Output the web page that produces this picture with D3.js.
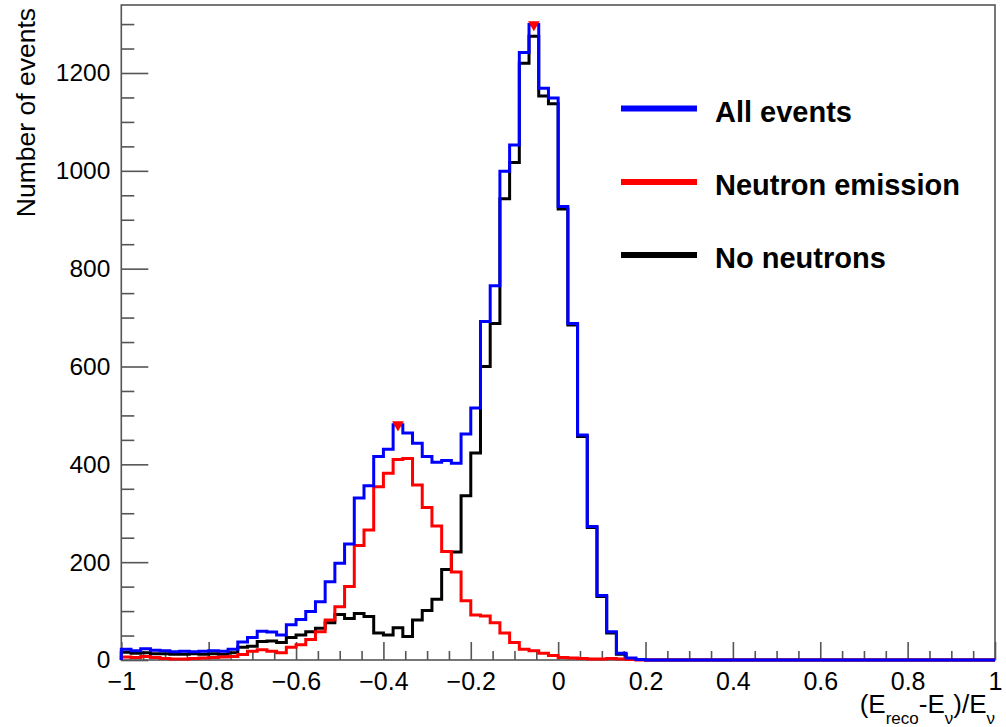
<!DOCTYPE html>
<html><head><meta charset="utf-8">
<script src="https://cdn.jsdelivr.net/npm/d3@7"></script>
<style>html,body{margin:0;padding:0;background:#fff;} text{font-family:"Liberation Sans",Arial,sans-serif;}</style>
</head><body>
<svg id="c" width="1006" height="727"></svg>
<script>
// Histogram definition: 90 bins between -1 and 1
const xRange = [-1, 1];
const nBins = 90;
// All events (blue)
const allEvents = [22,19,23,20,19,17,18,17,18,19,18,22,37,46,59,57,51,72,83,99,
  119,160,198,237,331,356,416,431,481,464,443,416,404,408,402,462,515,692,765,999,
  1053,1242,1299,1169,1149,927,688,460,273,132,58,14,4,1,0,0,0,0,0,0,
  0,0,0,0,0,0,0,0,0,0,0,0,0,0,0,0,0,0,0,0,0,0,0,0,0,0,0,0,0,0];
// Neutron emission (red)
const neutronEmission = [6,5,7,5,3,2,2,3,4,5,6,7,11,18,21,18,15,26,31,42,
  58,82,109,150,234,266,354,382,410,412,358,312,274,222,180,121,92,90,76,55,
  36,22,19,14,9,5,4,3,2,2,3,2,1,0,0,0,0,0,0,0,
  0,0,0,0,0,0,0,0,0,0,0,0,0,0,0,0,0,0,0,0,0,0,0,0,0,0,0,0,0,0];
// No neutrons (black)
const noNeutrons = [16,14,15,13,13,12,12,13,12,13,12,15,26,28,38,39,36,46,51,58,
  65,76,93,85,95,89,55,51,66,48,82,101,124,185,221,336,423,600,688,943,
  1017,1220,1275,1153,1137,922,685,457,271,130,55,12,3,1,0,0,0,0,0,0,
  0,0,0,0,0,0,0,0,0,0,0,0,0,0,0,0,0,0,0,0,0,0,0,0,0,0,0,0,0,0];
// Peak markers found on the "All events" histogram
const peakX = [-0.3667, -0.0556];
const peakY = [481, 1299];
const legendLabels = ["All events", "Neutron emission", "No neutrons"];
const seriesColors = ["#0000ff", "#ff0000", "#000000"];
const xTicks = [-1,-0.8,-0.6,-0.4,-0.2,0,0.2,0.4,0.6,0.8,1];
const yTicks = [0,200,400,600,800,1000,1200];
const yMax = 1339;

const svg = d3.select("#c");
const L = 121.3, R = 995, T = 5, B = 660;
const x = d3.scaleLinear().domain(xRange).range([L, R]);
const y = d3.scaleLinear().domain([0, yMax]).range([B, T]);
const bw = (xRange[1] - xRange[0]) / nBins;

function stepPath(vals) {
  const p = d3.path();
  p.moveTo(x(xRange[0]), y(0));
  vals.forEach((v, k) => {
    const x0 = xRange[0] + k * bw, x1 = x0 + bw;
    p.lineTo(x(x0), y(v));
    p.lineTo(x(x1), y(v));
  });
  p.lineTo(x(xRange[1]), y(0));
  return p.toString();
}

// frame
svg.append("rect").attr("x", L).attr("y", T).attr("width", R - L).attr("height", B - T)
  .attr("fill", "none").attr("stroke", "#555").attr("stroke-width", 1.6);

// minor ticks
const xMinor = d3.range(-1, 1.0001, 0.05).filter(v => !xTicks.some(t => Math.abs(t - v) < 1e-6));
const yMinor = d3.range(0, yMax, 50).filter(v => v % 200 !== 0);
svg.append("g").attr("transform", `translate(0,${B})`)
  .call(d3.axisBottom(x).tickValues(xMinor).tickSize(-9).tickFormat(""))
  .call(g => g.select(".domain").remove())
  .call(g => g.selectAll("line").attr("stroke", "#555").attr("stroke-width", 1.6));
svg.append("g").attr("transform", `translate(${L},0)`)
  .call(d3.axisLeft(y).tickValues(yMinor).tickSize(-13).tickFormat(""))
  .call(g => g.select(".domain").remove())
  .call(g => g.selectAll("line").attr("stroke", "#555").attr("stroke-width", 1.6));

// major ticks + labels
svg.append("g").attr("transform", `translate(0,${B})`)
  .call(d3.axisBottom(x).tickValues(xTicks).tickSize(-18).tickPadding(12).tickFormat(d3.format("")))
  .call(g => g.select(".domain").remove())
  .call(g => g.selectAll("line").attr("stroke", "#555").attr("stroke-width", 1.6))
  .call(g => g.selectAll("text").attr("font-size", 25).attr("fill", "#000")
    .attr("font-family", "Liberation Sans, Arial, sans-serif"));
svg.append("g").attr("transform", `translate(${L},0)`)
  .call(d3.axisLeft(y).tickValues(yTicks).tickSize(-27).tickPadding(11).tickFormat(d3.format("d")))
  .call(g => g.select(".domain").remove())
  .call(g => g.selectAll("line").attr("stroke", "#555").attr("stroke-width", 1.6))
  .call(g => g.selectAll("text").attr("font-size", 24.5).attr("fill", "#000")
    .attr("font-family", "Liberation Sans, Arial, sans-serif"));

// histograms (black, red, then blue on top)
const series = [noNeutrons, neutronEmission, allEvents];
const cols = [seriesColors[2], seriesColors[1], seriesColors[0]];
series.forEach((s, i) => {
  svg.append("path").attr("d", stepPath(s)).attr("fill", "none")
    .attr("stroke", cols[i]).attr("stroke-width", 3).attr("stroke-linejoin", "miter");
});

// peak markers
const tri = d3.symbol().type(d3.symbolTriangle).size(60);
peakX.forEach((px, i) => {
  svg.append("path").attr("d", tri())
    .attr("transform", `translate(${x(px)},${y(peakY[i])}) rotate(180)`)
    .attr("fill", "#ff0000");
});

// legend
const legY = [108.5, 182, 255];
legendLabels.forEach((lab, i) => {
  svg.append("line").attr("x1", 621).attr("x2", 697).attr("y1", legY[i]).attr("y2", legY[i])
    .attr("stroke", seriesColors[i]).attr("stroke-width", 6);
  svg.append("text").attr("x", 715).attr("y", legY[i] + 13)
    .attr("font-size", 29).attr("font-weight", "bold").text(lab);
});

// axis titles
svg.append("text").attr("transform", "translate(35,8) rotate(-90)")
  .attr("text-anchor", "end").attr("font-size", 26.5).text("Number of events");

const xt = svg.append("text").attr("x", R).attr("y", 713).attr("text-anchor", "end").attr("font-size", 26);
xt.append("tspan").text("(E");
xt.append("tspan").attr("font-size", 17).attr("dy", 11).text("reco");
xt.append("tspan").attr("dy", -11).text("-E");
xt.append("tspan").attr("font-size", 17).attr("dy", 11).text("ν");
xt.append("tspan").attr("dy", -11).text(")/E");
xt.append("tspan").attr("font-size", 17).attr("dy", 11).text("ν");
</script>
</body></html>
